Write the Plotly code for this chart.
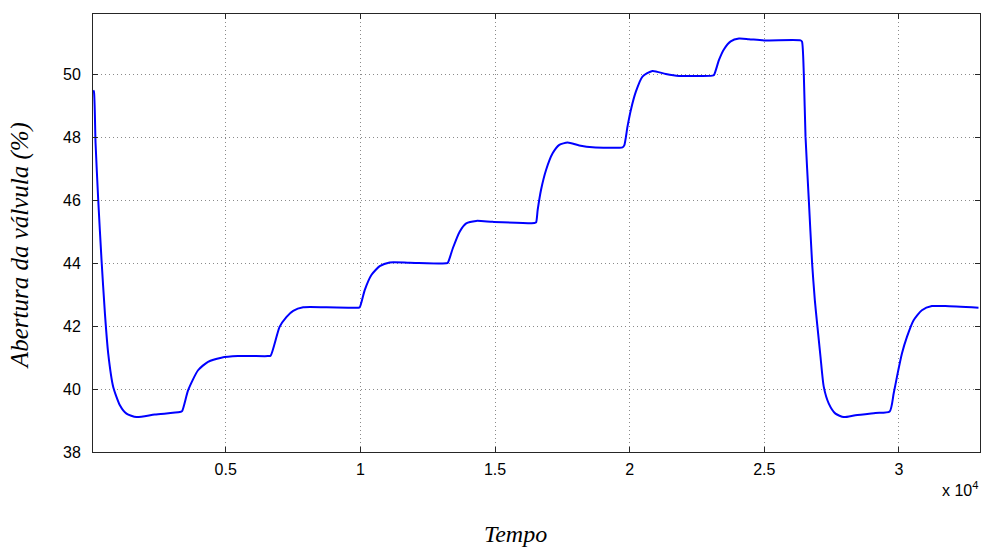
import plotly.graph_objects as go

# Time (s) and valve opening (%)
tempo = [80, 107, 167, 267, 389, 515, 637, 823, 1071, 1316, 1686, 2368, 3295, 3380,
         3602, 3973, 4343, 4836, 5455, 6567, 6667, 7001, 7260, 7505, 7875, 8742, 9914,
         9977, 10162, 10410, 10718, 11089, 11830, 13190, 13249, 13434, 13683, 13931,
         14302, 14917, 16462, 16525, 16585, 16710, 16896, 17140, 17388, 17696, 18130,
         18623, 19735, 19800, 19920, 20045, 20231, 20476, 20846, 21343, 21836, 23070,
         23132, 23318, 23504, 23752, 24060, 24430, 25049, 26346, 26400, 26468, 26531,
         26653, 26776, 26876, 26961, 27087, 27209, 27395, 27643, 27951, 28384, 29125,
         29655, 29804, 29926, 30111, 30297, 30545, 30852, 31223, 31720, 32954]
abertura = [49.5, 49.46, 47.82, 46.0, 44.1, 42.4, 41.13, 40.07, 39.49, 39.22, 39.11,
            39.19, 39.27, 39.3, 39.96, 40.6, 40.87, 41.0, 41.05, 41.05, 41.06, 41.98,
            42.3, 42.49, 42.6, 42.6, 42.59, 42.6, 43.15, 43.63, 43.91, 44.03, 44.02,
            44.0, 44.02, 44.48, 45.0, 45.27, 45.35, 45.32, 45.28, 45.3, 45.7, 46.34,
            46.97, 47.5, 47.77, 47.84, 47.75, 47.69, 47.69, 47.75, 48.35, 48.88, 49.46,
            49.94, 50.12, 50.02, 49.96, 49.97, 49.99, 50.47, 50.81, 51.06, 51.15, 51.13,
            51.09, 51.09, 51.05, 50.0, 48.03, 46.02, 44.0, 42.83, 42.09, 41.03, 40.07,
            39.54, 39.22, 39.11, 39.17, 39.24, 39.29, 39.86, 40.39, 41.13, 41.66, 42.19,
            42.51, 42.64, 42.64, 42.59]

x_tickvals = [5000, 10000, 15000, 20000, 25000, 30000]
x_ticktext = ["0.5", "1", "1.5", "2", "2.5", "3"]
y_tickvals = [38, 40, 42, 44, 46, 48, 50]

fig = go.Figure()
fig.add_trace(go.Scatter(x=tempo, y=abertura, mode="lines",
                         line=dict(color="#0000FF", width=2, shape="spline", smoothing=0.6),
                         showlegend=False))

axis_common = dict(showline=True, linecolor="#262626", linewidth=1, mirror="ticks",
                   ticks="inside", ticklen=5, tickcolor="#262626",
                   showgrid=True, gridcolor="#8a8a8a", griddash="1px,3px", gridwidth=1,
                   zeroline=False, automargin=False,
                   tickfont=dict(family="Liberation Sans, Arial", size=16, color="black"))

fig.update_xaxes(range=[72, 33010], tickvals=x_tickvals, ticktext=x_ticktext,
                 ticklabelstandoff=3, **axis_common)
fig.update_yaxes(range=[38, 51.93], tickvals=y_tickvals, ticklabelstandoff=8,
                 **axis_common)

serif = dict(family="Liberation Serif, Times New Roman", size=24, color="black")
fig.add_annotation(text="<i>Tempo</i>", xref="paper", yref="paper", x=0.476, y=-0.187,
                   xanchor="center", yanchor="middle", showarrow=False, font=serif)
fig.add_annotation(text="<i>Abertura da válvula (%)</i>", xref="paper", yref="paper",
                   x=0, y=0.47, xshift=-73, xanchor="center", yanchor="middle",
                   textangle=-90, showarrow=False,
                   font=dict(family="Liberation Serif, Times New Roman", size=25, color="black"))
fig.add_annotation(text="x 10<sup>4</sup>", xref="paper", yref="paper", x=1.0, y=-0.085,
                   xanchor="right", yanchor="middle", showarrow=False,
                   font=dict(family="Liberation Sans, Arial", size=16, color="black"))

fig.update_layout(width=981, height=547, plot_bgcolor="white", paper_bgcolor="white",
                  margin=dict(l=93, r=1, t=14, b=95))

fig.write_html("out.html", config={"responsive": False, "displayModeBar": False},
               post_script="document.body.style.margin='0px';document.body.style.overflow='hidden';")
